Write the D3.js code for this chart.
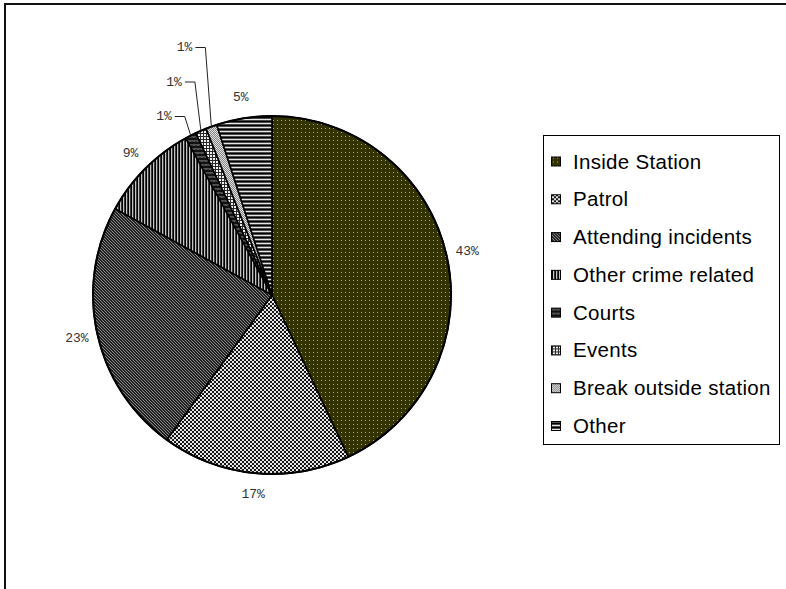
<!DOCTYPE html>
<html>
<head>
<meta charset="utf-8">
<script src="https://cdn.jsdelivr.net/npm/d3@7"></script>
<style>
  html, body { margin: 0; padding: 0; background: #fff; }
  svg { display: block; }
</style>
</head>
<body>
<script>
// Where officers' time is spent
const categories = ["Inside Station", "Patrol", "Attending incidents", "Other crime related",
                    "Courts", "Events", "Break outside station", "Other"];
const shares = [43, 17, 23, 9, 1, 1, 1, 5];
const shareLabels = ["43%", "17%", "23%", "9%", "1%", "1%", "1%", "5%"];

const W = 786, H = 589;
const cx = 272, cy = 295, R = 179;

const svg = d3.select("body").append("svg")
  .attr("width", W).attr("height", H)
  .attr("viewBox", `0 0 ${W} ${H}`);

// ---- fill patterns, one per category ----
const defs = svg.append("defs");
function pattern(id, w, h, bg, draw) {
  const p = defs.append("pattern").attr("id", id)
    .attr("patternUnits", "userSpaceOnUse").attr("width", w).attr("height", h);
  p.append("rect").attr("width", w).attr("height", h).attr("fill", bg);
  draw(p);
}
const px = (p, x, y, c, w = 1, h = 1) =>
  p.append("rect").attr("x", x).attr("y", y).attr("width", w).attr("height", h).attr("fill", c);

// olive with a fine grid of light dots
pattern("pat0", 4, 4, "#333300", p => px(p, 1, 1, "#a8a872"));
// small checkerboard
pattern("pat1", 4, 4, "#e6e6e6", p => { px(p, 0, 0, "#161616", 2, 2); px(p, 2, 2, "#161616", 2, 2); });
// dark diagonal hatching
pattern("pat2", 3, 3, "#222", p => p.append("path")
  .attr("d", "M0,0L3,3M-1,2L1,4M2,-1L4,1").attr("stroke", "#939393").attr("stroke-width", 0.9));
// vertical stripes
pattern("pat3", 3, 3, "#000", p => { px(p, 1, 0, "#c4c4c4", 1, 3); px(p, 2, 0, "#3a3a3a", 1, 3); });
// dark with light zig-zag
pattern("pat4", 4, 4, "#111", p => p.append("path")
  .attr("d", "M0,2.5L1,1.5L2,2.5L3,1.5L4,2.5").attr("fill", "none").attr("stroke", "#c8c8c8").attr("stroke-width", 0.8));
// fine grid
pattern("pat5", 3, 3, "#f0f0f0", p => { px(p, 0, 0, "#2a2a2a", 3, 1); px(p, 0, 0, "#2a2a2a", 1, 3); });
// light stipple
pattern("pat6", 2, 2, "#e0e0e0", p => { px(p, 0, 0, "#858585"); px(p, 1, 1, "#858585"); });
// horizontal stripes
pattern("pat7", 4, 4, "#4a4a4a", p => { px(p, 0, 0, "#e6e6e6", 4, 1); px(p, 0, 2, "#000", 4, 1); });

const fills = categories.map((_, i) => `url(#pat${i})`);

// ---- outer frame ----
svg.append("path").attr("d", `M5,${H}V4H${W}`)
  .attr("fill", "none").attr("stroke", "#111").attr("stroke-width", 2);

// ---- pie ----
const data = categories.map((c, i) => ({ name: c, value: shares[i], label: shareLabels[i], i }));
const pie = d3.pie().value(d => d.value).sort(null).startAngle(0).endAngle(2 * Math.PI);
const arcs = pie(data);
const arc = d3.arc().innerRadius(0).outerRadius(R);

const g = svg.append("g").attr("transform", `translate(${cx},${cy})`);
g.selectAll("path.slice").data(arcs).join("path")
  .attr("class", "slice")
  .attr("d", arc)
  .attr("fill", d => fills[d.data.i])
  .attr("stroke", "#000").attr("stroke-width", 1.6).attr("stroke-linejoin", "round");
g.append("circle").attr("r", R).attr("fill", "none").attr("stroke", "#000").attr("stroke-width", 2);

// ---- percentage labels ----
const labelFont = "'Liberation Mono', 'DejaVu Sans Mono', monospace";
const labelR = R + 21;
const mid = d => (d.startAngle + d.endAngle) / 2;
const polar = (a, r) => [Math.sin(a) * r, -Math.cos(a) * r];

const big = arcs.filter(d => d.data.value >= 2);
const small = arcs.filter(d => d.data.value < 2);

g.selectAll("text.pl").data(big).join("text")
  .attr("class", "pl")
  .attr("x", d => polar(mid(d), labelR)[0])
  .attr("y", d => polar(mid(d), labelR)[1])
  .attr("text-anchor", "middle").attr("dominant-baseline", "central")
  .attr("font-family", labelFont).attr("font-size", 13).attr("fill", "#333")
  .text(d => d.data.label);

// thin slices get stacked call-outs with leader lines
const calloutGap = 19, calloutStep = 34.5, kneeShift = 6, tick = 10;
const firstY = small.length ? polar(mid(small[0]), R)[1] - calloutGap : 0;
small.forEach((d, k) => {
  const [ax, ay] = polar(mid(d), R);
  const kx = ax - kneeShift, ky = firstY - k * calloutStep;
  g.append("path")
    .attr("d", `M${ax},${ay}L${kx},${ky}L${kx - tick},${ky}`)
    .attr("fill", "none").attr("stroke", "#222").attr("stroke-width", 1);
  g.append("text")
    .attr("x", kx - tick - 3).attr("y", ky)
    .attr("text-anchor", "end").attr("dominant-baseline", "central")
    .attr("font-family", labelFont).attr("font-size", 13).attr("fill", "#333")
    .text(d.data.label);
});

// ---- legend ----
const lg = svg.append("g");
lg.append("rect").attr("x", 543.5).attr("y", 135.5).attr("width", 236).attr("height", 309)
  .attr("fill", "#fff").attr("stroke", "#000").attr("stroke-width", 1);
const rowY = d3.scalePoint().domain(categories).range([168.5, 433]);
const item = lg.selectAll("g.item").data(categories).join("g").attr("class", "item")
  .attr("transform", c => `translate(0,${rowY(c)})`);
item.append("rect").attr("x", 551.5).attr("y", -11.5).attr("width", 9).attr("height", 9)
  .attr("fill", (c, i) => fills[i]).attr("stroke", "#000").attr("stroke-width", 1);
item.append("text").attr("x", 573).attr("y", 0)
  .attr("font-family", "'Liberation Sans', Arial, sans-serif").attr("font-size", 20.5)
  .attr("letter-spacing", 0.3).attr("fill", "#000")
  .text(c => c);
</script>
</body>
</html>
